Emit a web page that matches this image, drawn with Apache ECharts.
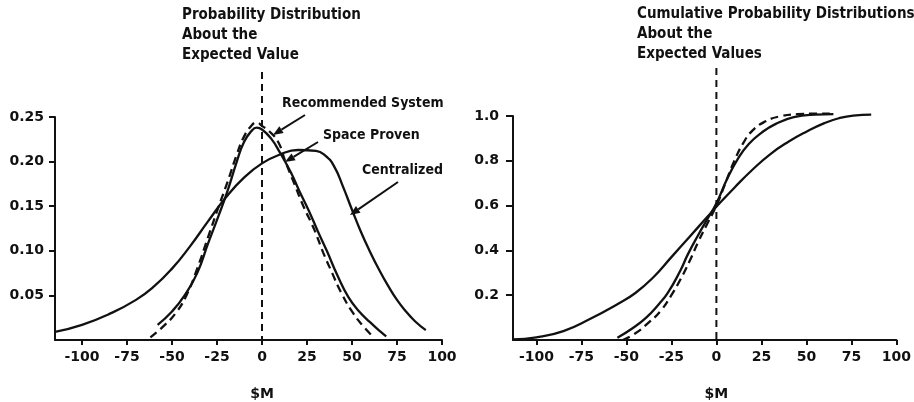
<!DOCTYPE html>
<html>
<head>
<meta charset="utf-8">
<script src="https://cdn.jsdelivr.net/npm/echarts@6/dist/echarts.min.js"></script>
<style>
  html, body { margin: 0; padding: 0; background: #fff; }
  #chart { width: 914px; height: 402px; }
</style>
</head>
<body>
<div id="chart"></div>
<script>
// Cost-risk distributions, $M about the expected value
const xTicks = [-100, -75, -50, -25, 0, 25, 50, 75, 100];
const pdfTicks = [0.05, 0.10, 0.15, 0.20, 0.25];
const cdfTicks = [0.2, 0.4, 0.6, 0.8, 1.0];

// Probability density (left panel): [$M, probability]
const centralizedPdf = [
  [-115, 0.009], [-100, 0.017], [-85, 0.029], [-70, 0.045], [-60, 0.060],
  [-50, 0.080], [-40, 0.105], [-30, 0.133], [-20, 0.160], [-10, 0.182],
  [0, 0.198], [10, 0.208], [20, 0.213], [30, 0.212], [35, 0.207],
  [40, 0.195], [45, 0.172], [50, 0.146], [55, 0.121], [60, 0.099],
  [65, 0.079], [70, 0.061], [75, 0.045], [80, 0.032], [85, 0.021], [91, 0.011]
];
const spaceProvenPdf = [
  [-58, 0.017], [-50, 0.032], [-43, 0.050], [-36, 0.075], [-30, 0.108],
  [-24, 0.140], [-19, 0.168], [-14, 0.200], [-10, 0.222], [-6, 0.234],
  [-3, 0.238], [0, 0.236], [5, 0.226], [10, 0.210], [16, 0.188],
  [21, 0.166], [26, 0.145], [31, 0.122], [36, 0.100], [42, 0.072],
  [48, 0.048], [54, 0.032], [60, 0.020], [66, 0.009], [69, 0.004]
];
const recommendedPdf = [
  [-62, 0.003], [-55, 0.015], [-48, 0.030], [-42, 0.050], [-36, 0.080],
  [-30, 0.115], [-24, 0.150], [-19, 0.178], [-14, 0.208], [-10, 0.228],
  [-6, 0.240], [-3, 0.244], [0, 0.240], [4, 0.234], [9, 0.222],
  [13, 0.200], [18, 0.175], [23, 0.150], [29, 0.124], [34, 0.098],
  [39, 0.075], [44, 0.053], [50, 0.032], [56, 0.016], [62, 0.003]
];

// Cumulative probability (right panel): [$M, cumulative probability]
const centralizedCdf = [
  [-113, 0.003], [-100, 0.012], [-85, 0.040], [-70, 0.095], [-55, 0.160],
  [-45, 0.210], [-35, 0.280], [-25, 0.370], [-15, 0.460], [-5, 0.550],
  [0, 0.595], [10, 0.680], [20, 0.760], [30, 0.830], [40, 0.885],
  [50, 0.930], [60, 0.968], [68, 0.990], [76, 1.002], [86, 1.006]
];
const spaceProvenCdf = [
  [-55, 0.010], [-47, 0.050], [-39, 0.100], [-32, 0.160], [-27, 0.210],
  [-20, 0.310], [-16, 0.380], [-10, 0.470], [-5, 0.540], [0, 0.610],
  [6, 0.720], [12, 0.810], [18, 0.875], [25, 0.925], [33, 0.965],
  [43, 0.995], [55, 1.006], [65, 1.008]
];
const recommendedCdf = [
  [-52, 0.000], [-45, 0.030], [-38, 0.075], [-31, 0.130], [-25, 0.200],
  [-20, 0.270], [-15, 0.350], [-10, 0.440], [-5, 0.520], [0, 0.600],
  [5, 0.700], [10, 0.800], [15, 0.880], [20, 0.935], [27, 0.975],
  [35, 0.998], [45, 1.008], [55, 1.010], [63, 1.010]
];

const INK = '#111';
const TEXT_FONT = '"Liberation Sans Narrow", "DejaVu Sans Condensed", "Liberation Sans", sans-serif';
const NUM_FONT = '"DejaVu Sans", "Liberation Sans", sans-serif';

const chart = echarts.init(document.getElementById('chart'), null, { renderer: 'canvas' });

function xAxisCfg(gridIndex, min) {
  return {
    type: 'value', gridIndex, min, max: 100,
    axisLine: { show: true, onZero: false, lineStyle: { color: INK, width: 2 } },
    axisTick: { show: true, inside: false, length: 5, customValues: xTicks, lineStyle: { color: INK, width: 2 } },
    axisLabel: { customValues: xTicks, margin: 10, color: INK, fontSize: 14, fontWeight: 'bold', fontFamily: NUM_FONT },
    splitLine: { show: false }
  };
}
function yAxisCfg(gridIndex, max, ticks, digits, tickLen, margin) {
  return {
    type: 'value', gridIndex, min: 0, max,
    axisLine: { show: true, onZero: false, lineStyle: { color: INK, width: 2 } },
    axisTick: { show: true, inside: false, length: tickLen, customValues: ticks, lineStyle: { color: INK, width: 2 } },
    axisLabel: { customValues: ticks, margin, color: INK, fontSize: 14, fontWeight: 'bold', fontFamily: NUM_FONT,
      formatter: v => Number(v).toFixed(digits) },
    splitLine: { show: false }
  };
}
function curve(name, data, axisIndex, dashed) {
  return {
    name, type: 'line', data, xAxisIndex: axisIndex, yAxisIndex: axisIndex,
    smooth: 0.5, showSymbol: false, silent: true, clip: false,
    lineStyle: { color: INK, width: 2.3, type: dashed ? [8, 5] : 'solid' }
  };
}

chart.setOption({
  animation: false,
  backgroundColor: '#fff',
  grid: [
    { left: 55, top: 117, width: 387, height: 223 },
    { left: 513, top: 116, width: 385, height: 224 }
  ],
  xAxis: [xAxisCfg(0, -115), xAxisCfg(1, -113)],
  yAxis: [yAxisCfg(0, 0.25, pdfTicks, 2, 6, 11), yAxisCfg(1, 1.0, cdfTicks, 1, 7, 14)],
  series: [
    curve('Centralized', centralizedPdf, 0, false),
    curve('Space Proven', spaceProvenPdf, 0, false),
    curve('Recommended System', recommendedPdf, 0, true),
    curve('Centralized', centralizedCdf, 1, false),
    curve('Space Proven', spaceProvenCdf, 1, false),
    curve('Recommended System', recommendedCdf, 1, true)
  ]
});

// Overlay: titles, expected-value guides, unit names and curve callouts
function label(text, x, y, size, opts) {
  return {
    type: 'text', x, y, silent: true,
    style: Object.assign({
      text, fill: INK, font: 'bold ' + size + 'px ' + TEXT_FONT, lineHeight: 20,
      textVerticalAlign: 'top'
    }, opts || {})
  };
}
function arrow(x1, y1, x2, y2) {
  const a = Math.atan2(y2 - y1, x2 - x1);
  const len = 10, half = 4;
  const bx = x2 - len * Math.cos(a), by = y2 - len * Math.sin(a);
  const px = -Math.sin(a) * half, py = Math.cos(a) * half;
  return [
    { type: 'line', silent: true, shape: { x1, y1, x2: bx, y2: by }, style: { stroke: INK, lineWidth: 2 } },
    { type: 'polygon', silent: true, shape: { points: [[x2, y2], [bx + px, by + py], [bx - px, by - py]] }, style: { fill: INK } }
  ];
}

const zeroL = chart.convertToPixel({ xAxisIndex: 0 }, 0);
const zeroR = chart.convertToPixel({ xAxisIndex: 1 }, 0);
const baseL = chart.convertToPixel({ yAxisIndex: 0 }, 0);
const baseR = chart.convertToPixel({ yAxisIndex: 1 }, 0);

const graphics = [
  label('Probability Distribution\nAbout the\nExpected Value', 182, 5, 15),
  label('Cumulative Probability Distributions\nAbout the\nExpected Values', 637, 4, 15),
  { type: 'line', silent: true, shape: { x1: zeroL, y1: 72, x2: zeroL, y2: baseL },
    style: { stroke: INK, lineWidth: 2, lineDash: [7, 5] } },
  { type: 'line', silent: true, shape: { x1: zeroR, y1: 68, x2: zeroR, y2: baseR },
    style: { stroke: INK, lineWidth: 2, lineDash: [7, 5] } },
  label('$M', zeroL, 384, 14, { textAlign: 'center', font: 'bold 14px ' + NUM_FONT }),
  label('$M', zeroR, 384, 14, { textAlign: 'center', font: 'bold 14px ' + NUM_FONT }),
  label('Recommended System', 282, 93, 14),
  label('Space Proven', 323, 125, 14),
  label('Centralized', 362, 160, 14)
].concat(
  arrow(305, 115, 273, 135),
  arrow(318, 142, 285, 162),
  arrow(398, 182, 350, 215)
);

chart.setOption({ graphic: graphics });
</script>
</body>
</html>
